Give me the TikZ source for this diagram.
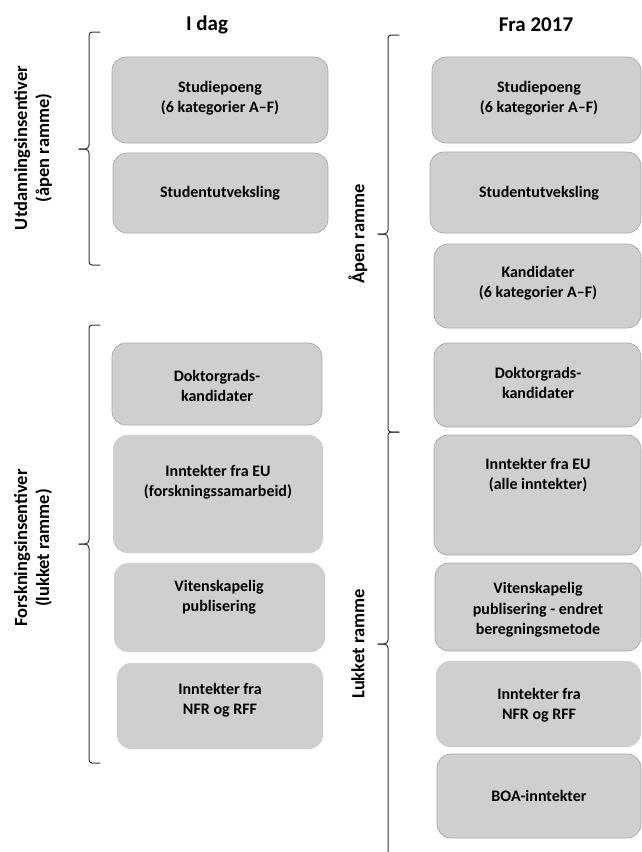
\documentclass[tikz,border=0pt]{standalone}
\usepackage{fontspec}
\setmainfont{Carlito}
\definecolor{cardgray}{RGB}{208,207,207}
\definecolor{cardedge}{RGB}{168,168,168}
\definecolor{bracegray}{RGB}{50,50,50}
% curly brace opening to the right: x of the spine, top, tip, bottom
\newcommand{\drawbrace}[4]{%
  \draw[bracestroke] (#1+11,#2) -- (#1+3,#2) to[out=180,in=90] (#1,#2+3)
    -- (#1,#3-4) to[out=-90,in=0] (#1-4,#3) -- (#1-10,#3);
  \draw[bracestroke] (#1-10,#3) -- (#1-4,#3) to[out=0,in=90] (#1,#3+4)
    -- (#1,#4-3) to[out=-90,in=180] (#1+3,#4) -- (#1+11,#4);}
\begin{document}
\begin{tikzpicture}[x=1pt,y=-1pt,
  card/.style={rounded corners=14pt, fill=cardgray, draw=cardedge, line width=0.7pt},
  softcard/.style={rounded corners=14pt, fill=cardgray},
  boxtext/.style={font=\fontsize{16}{20.5}\selectfont\bfseries, align=center, inner sep=0pt},
  heading/.style={font=\fontsize{21}{24}\selectfont\bfseries, inner sep=0pt},
  sidelabel/.style={font=\fontsize{18.5}{22}\selectfont\bfseries, align=center, rotate=90, inner sep=0pt},
  bracestroke/.style={draw=bracegray, line width=1pt, line cap=round, line join=round},
]
\useasboundingbox (0,0) rectangle (642,852);
\clip (0,0) rectangle (642,852);

% column headings
\node[heading] (hleft) at (207,25) {I dag};
\node[heading] (hright) at (536,25) {Fra 2017};

% ---- left column: today's incentives ----
\path[card]     (112,57)  rectangle (328,143) coordinate (l1);
\path[card]     (113,153) rectangle (328,233) coordinate (l2);
\path[card]     (112,343) rectangle (322,425) coordinate (l3);
\path[softcard] (113,435) rectangle (323,553) coordinate (l4);
\path[softcard] (114,563) rectangle (325,652) coordinate (l5);
\path[softcard] (117,663) rectangle (323,749) coordinate (l6);

\node[boxtext] (t1) at (220,98)  {Studiepoeng\\(6 kategorier A--F)};
\node[boxtext] (t2) at (220,193) {Studentutveksling};
\node[boxtext] (t3) at (217,386) {Doktorgrads-\\kandidater};
\node[boxtext] (t4) at (218,482) {Inntekter fra EU\\(forskningssamarbeid)};
\node[boxtext] (t5) at (219,597) {Vitenskapelig\\publisering};
\node[boxtext] (t6) at (220,700) {Inntekter fra\\NFR og RFF};

% ---- right column: from 2017 ----
\path[card]     (432,57)  rectangle (641,143) coordinate (r1);
\path[card]     (430,152) rectangle (641,233) coordinate (r2);
\path[card]     (434,244) rectangle (641,328) coordinate (r3);
\path[card]     (434,343) rectangle (641,427) coordinate (r4);
\path[card]     (434,435) rectangle (641,555) coordinate (r5);
\path[card]     (435,563) rectangle (641,651) coordinate (r6);
\path[softcard] (436,661) rectangle (641,747) coordinate (r7);
\path[card]     (437,754) rectangle (641,838) coordinate (r8);

\node[boxtext] (u1) at (539,98)  {Studiepoeng\\(6 kategorier A--F)};
\node[boxtext] (u2) at (539,193) {Studentutveksling};
\node[boxtext] (u3) at (538,283) {Kandidater\\(6 kategorier A--F)};
\node[boxtext] (u4) at (538,383) {Doktorgrads-\\kandidater};
\node[boxtext] (u5) at (538,475) {Inntekter fra EU\\(alle inntekter)};
\node[boxtext] (u6) at (538,610) {Vitenskapelig\\publisering - endret\\beregningsmetode};
\node[boxtext] (u7) at (539,705) {Inntekter fra\\NFR og RFF};
\node[boxtext] (u8) at (539,796) {BOA-inntekter};

% ---- braces and their labels ----
\drawbrace{89}{32}{149}{265}
\drawbrace{89}{325}{544}{763}
\drawbrace{388}{35}{234}{432}
\drawbrace{388}{432}{644}{856}

\node[sidelabel] (s1) at (33,148) {Utdanningsinsentiver\\(åpen ramme)};
\node[sidelabel] (s2) at (33,548) {Forskningsinsentiver\\(lukket ramme)};
\node[sidelabel] (s3) at (358,234) {Åpen ramme};
\node[sidelabel] (s4) at (358,644) {Lukket ramme};
\end{tikzpicture}
\end{document}
